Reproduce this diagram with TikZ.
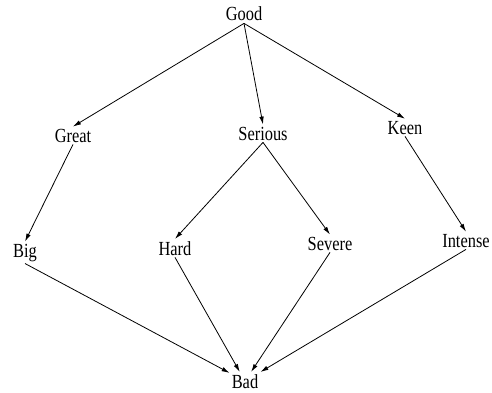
\documentclass[tikz,border=0pt]{standalone}
\usepackage{fontspec}
\setmainfont{Liberation Serif}
\usetikzlibrary{arrows.meta}
\newcommand{\lbltext}[1]{\scalebox{0.82}[1]{\fontsize{20}{24}\selectfont #1}}
\tikzset{
  word/.style={inner sep=2pt, anchor=base},
  link/.style={-{Latex[length=8pt,width=4.5pt]}, line width=0.8pt}
}
\begin{document}
\begin{tikzpicture}[x=1pt,y=-1pt]
\useasboundingbox (0,0) rectangle (492,393);
\node[word] (good) at (244,21) {\lbltext{Good}};
\node[word] (great) at (73,142) {\lbltext{Great}};
\node[word] (serious) at (263,140) {\lbltext{Serious}};
\node[word] (keen) at (405,134) {\lbltext{Keen}};
\node[word] (big) at (25,257) {\lbltext{Big}};
\node[word] (hard) at (175,255) {\lbltext{Hard}};
\node[word] (severe) at (330,250) {\lbltext{Severe}};
\node[word] (intense) at (466,247) {\lbltext{Intense}};
\node[word] (bad) at (245,388) {\lbltext{Bad}};
\draw[link] (good.south) -- (great.north);
\draw[link] (good.south) -- (serious.north);
\draw[link] (good.south) -- (keen.north);
\draw[link] (great.south) -- (big.north);
\draw[link] (serious.south) -- (hard.north);
\draw[link] (serious.south) -- (severe.north);
\draw[link] (keen.south) -- (intense.north);
\draw[link] (big.south) -- (bad);
\draw[link] (hard.south) -- (bad);
\draw[link] (severe.south) -- (bad);
\draw[link] (intense.south) -- (bad);
\end{tikzpicture}
\end{document}
